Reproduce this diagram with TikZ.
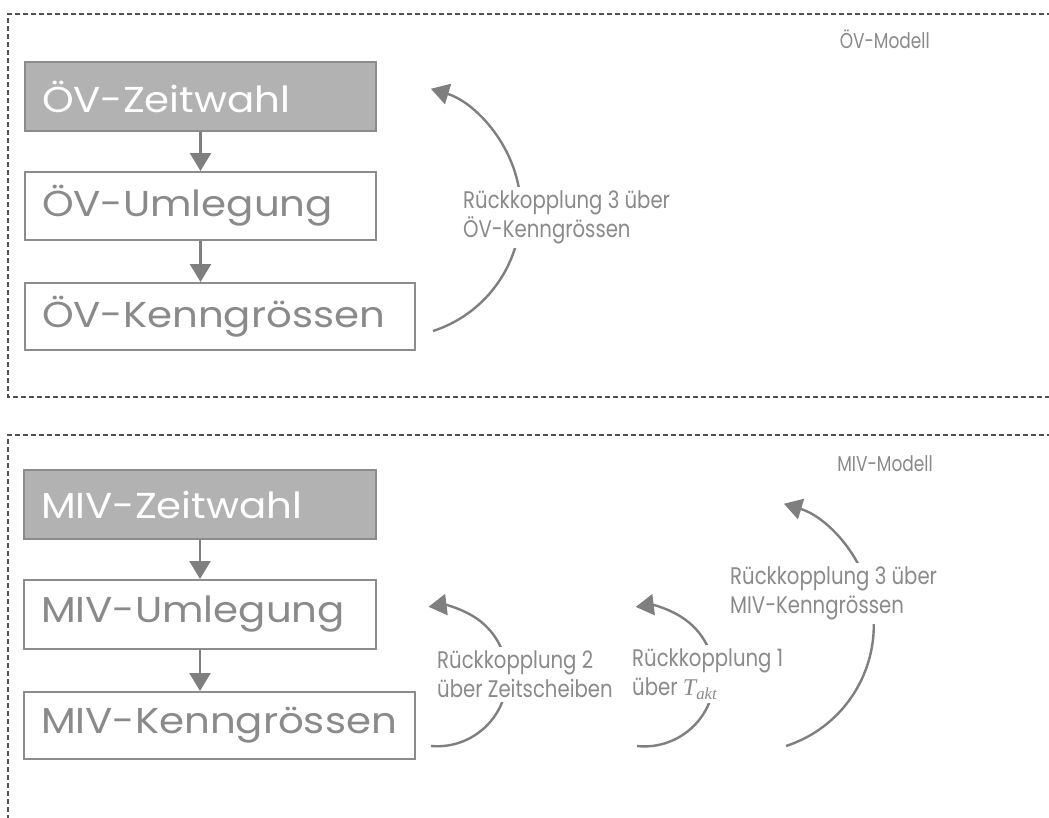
\documentclass[tikz,border=0pt]{standalone}
\usepackage{fontspec}
\setmainfont{Poppins}
\newfontfamily\boxfont[FakeStretch=1.12]{Poppins}
\newfontfamily\lblfont[FakeStretch=0.82]{Poppins}
\newfontfamily\mdlfont[FakeStretch=0.79]{Poppins}
\newfontfamily\mathserif{Liberation Serif}
\usetikzlibrary{arrows.meta}
\definecolor{bd}{HTML}{8C8C8C}
\definecolor{fl}{HTML}{B2B2B2}
\definecolor{tx}{HTML}{8A8A8A}
\definecolor{ar}{HTML}{7F7F7F}
\definecolor{fr}{HTML}{505050}
\tikzset{
  frame/.style={draw=fr, line width=1.2pt, dash pattern=on 5pt off 3pt},
  box/.style={draw=bd, line width=2pt, anchor=north west, inner xsep=17pt, inner ysep=0pt,
    align=left, text=tx, font=\boxfont\fontsize{36}{42}\selectfont},
  dark/.style={box, fill=fl, text=white},
  arr/.style={draw=ar, line width=2.4pt, -{Triangle[width=21pt,length=18pt]}},
  lbl/.style={anchor=north west, align=left, text=tx, fill=white, inner sep=4pt,
    font=\lblfont\fontsize{24}{28.5}\selectfont},
  model/.style={anchor=base east, text=tx, inner sep=0pt, font=\mdlfont\fontsize{21.5}{24}\selectfont}
}
\begin{document}
\begin{tikzpicture}[x=1pt,y=1pt]
\clip (0,0) rectangle (1049,-817);
\fill[white] (0,0) rectangle (1049,-817);
% frames
\draw[frame] (1060,-14) -- (8,-14) -- (8,-397) -- (1060,-397);
\draw[frame] (1060,-435) -- (8,-435) -- (8,-830);
\node[model] (om) at (930,-48) {ÖV-Modell};
\node[model] (mm) at (933,-471) {MIV-Modell};
% OEV boxes
\node[dark, minimum width=351pt, minimum height=69pt, text width=317pt] (oz) at (24,-61) {ÖV-Zeitwahl};
\node[box, minimum width=351pt, minimum height=68pt, text width=317pt] (ou) at (24,-171) {ÖV-Umlegung};
\node[box, minimum width=390pt, minimum height=67pt, text width=356pt] (ok) at (24,-282) {ÖV-Kenngrössen};
\draw[arr] (oz.south) -- (ou.north);
\draw[arr] (ou.south) -- (ok.north -| ou.south);
% MIV boxes
\node[dark, minimum width=352pt, minimum height=69pt, text width=318pt] (mz) at (23,-469) {MIV-Zeitwahl};
\node[box, minimum width=352pt, minimum height=69pt, text width=318pt] (mu) at (23,-579) {MIV-Umlegung};
\node[box, minimum width=391pt, minimum height=67pt, text width=357pt] (mk) at (23,-691) {MIV-Kenngrössen};
\draw[arr] (mz.south) -- (mu.north);
\draw[arr] (mu.south) -- (mk.north -| mu.south);
% feedback arcs
\coordinate (s3o) at (433,-331);
\coordinate (s2) at (431,-746);
\coordinate (s1) at (637,-746);
\coordinate (s3m) at (786,-746);
\draw[arr] (s3o) arc[start angle=-72, end angle=73, radius=127];
\draw[arr] (s2) arc[start angle=-95, end angle=97, radius=70];
\draw[arr] (s1) arc[start angle=-96, end angle=97, radius=70];
\draw[arr] (s3m) arc[start angle=-72, end angle=73, radius=127];
% labels
\node[lbl] (l3o) at (459,-187) {Rückkopplung 3 über\\ÖV-Kenngrössen};
\node[lbl] (l2) at (433,-647) {Rückkopplung 2\\über Zeitscheiben};
\node[lbl] (l1) at (628,-645) {Rückkopplung 1\\über {\mathserif\itshape T\textsubscript{akt}}};
\node[lbl] (l3m) at (726,-563) {Rückkopplung 3 über\\MIV-Kenngrössen};
\end{tikzpicture}
\end{document}
